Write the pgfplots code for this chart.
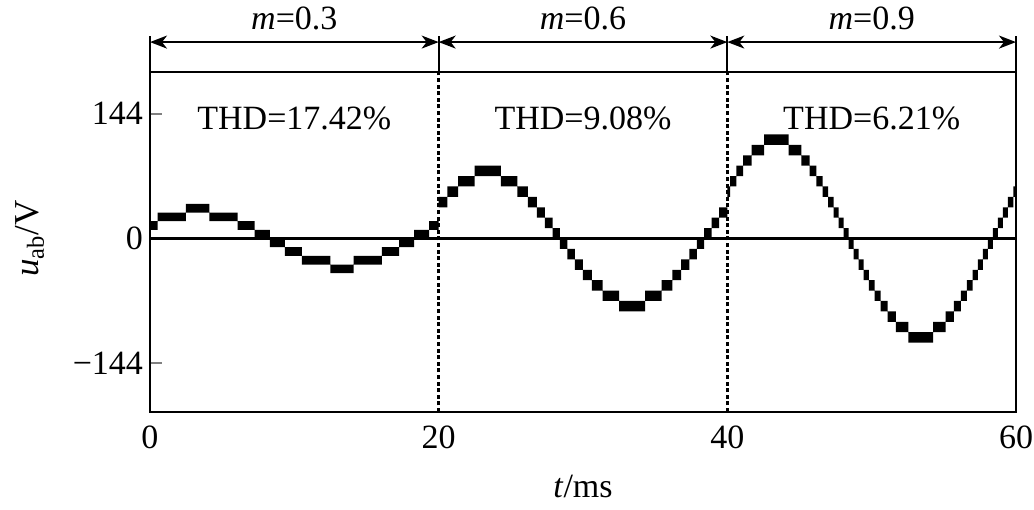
\documentclass[border=0pt]{standalone}
\usepackage{fontspec}
\setmainfont{Liberation Serif}
\usepackage{pgfplots}
\pgfplotsset{compat=1.18}
\usetikzlibrary{arrows.meta}

\begin{document}
\begin{tikzpicture}[font=\fontsize{17}{20}\selectfont]
\useasboundingbox (-75pt,-48.5pt) rectangle (442pt,206pt);
\begin{axis}[
  at={(0,0)}, anchor=south west,
  scale only axis, width=433pt, height=170pt,
  xmin=0, xmax=60, ymin=-200, ymax=192,
  xtick={0,20,40,60}, xticklabels={0,20,40,60},
  ytick={-144,0,144}, yticklabels={−144,0,144},
  tick align=inside, ytick pos=left, xtick style={draw=none},
  major tick length=6pt,
  ytick style={line width=1pt},
  axis line style={line width=1pt},
  tick label style={font=\fontsize{17}{20}\selectfont},
  xticklabel style={yshift=-3.5pt},
  clip=false,
  unbounded coords=jump,
  xlabel={\textit{t}/ms}, ylabel={\textit{u}\textsubscript{ab}/V},
  every axis x label/.style={at={(rel axis cs:0.5,-0.22)}, anchor=center, font=\fontsize{17}{20}\selectfont},
  every axis y label/.style={at={(rel axis cs:-0.1386,0.51)}, anchor=center, rotate=90, font=\fontsize{17.5}{20}\selectfont},
]
% m = 0.3 band blocks (t1,lo) (t2,lo) (t2,hi) (t1,hi)
\addplot[fill=black, draw=none] coordinates {
(0,10) (0.531,10) (0.531,20) (0,20) (0,nan)
(0.531,20) (2.489,20) (2.489,30) (0.531,30) (0.531,nan)
(2.489,30) (4.111,30) (4.111,40) (2.489,40) (2.489,nan)
(4.111,20) (6.069,20) (6.069,30) (4.111,30) (4.111,nan)
(6.069,10) (7.254,10) (7.254,20) (6.069,20) (6.069,nan)
(7.254,0) (8.3,0) (8.3,10) (7.254,10) (7.254,nan)
(8.3,-10) (9.346,-10) (9.346,0) (8.3,0) (8.3,nan)
(9.346,-20) (10.531,-20) (10.531,-10) (9.346,-10) (9.346,nan)
(10.531,-30) (12.489,-30) (12.489,-20) (10.531,-20) (10.531,nan)
(12.489,-40) (14.111,-40) (14.111,-30) (12.489,-30) (12.489,nan)
(14.111,-30) (16.069,-30) (16.069,-20) (14.111,-20) (14.111,nan)
(16.069,-20) (17.254,-20) (17.254,-10) (16.069,-10) (16.069,nan)
(17.254,-10) (18.3,-10) (18.3,0) (17.254,0) (17.254,nan)
(18.3,0) (19.346,0) (19.346,10) (18.3,10) (18.3,nan)
(19.346,10) (20,10) (20,20) (19.346,20)
};
% m = 0.6
\addplot[fill=black, draw=none] coordinates {
(20,36) (20.611,36) (20.611,48) (20,48) (20,nan)
(20.611,48) (21.352,48) (21.352,60) (20.611,60) (20.611,nan)
(21.352,60) (22.497,60) (22.497,72) (21.352,72) (21.352,nan)
(22.497,72) (24.303,72) (24.303,84) (22.497,84) (22.497,nan)
(24.303,60) (25.448,60) (25.448,72) (24.303,72) (24.303,nan)
(25.448,48) (26.189,48) (26.189,60) (25.448,60) (25.448,nan)
(26.189,36) (26.806,36) (26.806,48) (26.189,48) (26.189,nan)
(26.806,24) (27.363,24) (27.363,36) (26.806,36) (26.806,nan)
(27.363,12) (27.888,12) (27.888,24) (27.363,24) (27.363,nan)
(27.888,0) (28.4,0) (28.4,12) (27.888,12) (27.888,nan)
(28.4,-12) (28.912,-12) (28.912,0) (28.4,0) (28.4,nan)
(28.912,-24) (29.437,-24) (29.437,-12) (28.912,-12) (28.912,nan)
(29.437,-36) (29.994,-36) (29.994,-24) (29.437,-24) (29.437,nan)
(29.994,-48) (30.611,-48) (30.611,-36) (29.994,-36) (29.994,nan)
(30.611,-60) (31.352,-60) (31.352,-48) (30.611,-48) (30.611,nan)
(31.352,-72) (32.497,-72) (32.497,-60) (31.352,-60) (31.352,nan)
(32.497,-84) (34.303,-84) (34.303,-72) (32.497,-72) (32.497,nan)
(34.303,-72) (35.448,-72) (35.448,-60) (34.303,-60) (34.303,nan)
(35.448,-60) (36.189,-60) (36.189,-48) (35.448,-48) (35.448,nan)
(36.189,-48) (36.806,-48) (36.806,-36) (36.189,-36) (36.189,nan)
(36.806,-36) (37.363,-36) (37.363,-24) (36.806,-24) (36.806,nan)
(37.363,-24) (37.888,-24) (37.888,-12) (37.363,-12) (37.363,nan)
(37.888,-12) (38.4,-12) (38.4,0) (37.888,0) (37.888,nan)
(38.4,0) (38.912,0) (38.912,12) (38.4,12) (38.4,nan)
(38.912,12) (39.437,12) (39.437,24) (38.912,24) (38.912,nan)
(39.437,24) (40,24) (40,36) (39.437,36)
};
% m = 0.9
\addplot[fill=black, draw=none] coordinates {
(40,48) (40.2,48) (40.2,60) (40,60) (40,nan)
(40.2,60) (40.623,60) (40.623,72) (40.2,72) (40.2,nan)
(40.623,72) (41.1,72) (41.1,84) (40.623,84) (40.623,nan)
(41.1,84) (41.678,84) (41.678,96) (41.1,96) (41.1,nan)
(41.678,96) (42.547,96) (42.547,108) (41.678,108) (41.678,nan)
(42.547,108) (44.253,108) (44.253,120) (42.547,120) (42.547,nan)
(44.253,96) (45.122,96) (45.122,108) (44.253,108) (44.253,nan)
(45.122,84) (45.7,84) (45.7,96) (45.122,96) (45.122,nan)
(45.7,72) (46.177,72) (46.177,84) (45.7,84) (45.7,nan)
(46.177,60) (46.6,60) (46.6,72) (46.177,72) (46.177,nan)
(46.6,48) (46.99,48) (46.99,60) (46.6,60) (46.6,nan)
(46.99,36) (47.358,36) (47.358,48) (46.99,48) (46.99,nan)
(47.358,24) (47.712,24) (47.712,36) (47.358,36) (47.358,nan)
(47.712,12) (48.058,12) (48.058,24) (47.712,24) (47.712,nan)
(48.058,0) (48.4,0) (48.4,12) (48.058,12) (48.058,nan)
(48.4,-12) (48.742,-12) (48.742,0) (48.4,0) (48.4,nan)
(48.742,-24) (49.088,-24) (49.088,-12) (48.742,-12) (48.742,nan)
(49.088,-36) (49.442,-36) (49.442,-24) (49.088,-24) (49.088,nan)
(49.442,-48) (49.81,-48) (49.81,-36) (49.442,-36) (49.442,nan)
(49.81,-60) (50.2,-60) (50.2,-48) (49.81,-48) (49.81,nan)
(50.2,-72) (50.623,-72) (50.623,-60) (50.2,-60) (50.2,nan)
(50.623,-84) (51.1,-84) (51.1,-72) (50.623,-72) (50.623,nan)
(51.1,-96) (51.678,-96) (51.678,-84) (51.1,-84) (51.1,nan)
(51.678,-108) (52.547,-108) (52.547,-96) (51.678,-96) (51.678,nan)
(52.547,-120) (54.253,-120) (54.253,-108) (52.547,-108) (52.547,nan)
(54.253,-108) (55.122,-108) (55.122,-96) (54.253,-96) (54.253,nan)
(55.122,-96) (55.7,-96) (55.7,-84) (55.122,-84) (55.122,nan)
(55.7,-84) (56.177,-84) (56.177,-72) (55.7,-72) (55.7,nan)
(56.177,-72) (56.6,-72) (56.6,-60) (56.177,-60) (56.177,nan)
(56.6,-60) (56.99,-60) (56.99,-48) (56.6,-48) (56.6,nan)
(56.99,-48) (57.358,-48) (57.358,-36) (56.99,-36) (56.99,nan)
(57.358,-36) (57.712,-36) (57.712,-24) (57.358,-24) (57.358,nan)
(57.712,-24) (58.058,-24) (58.058,-12) (57.712,-12) (57.712,nan)
(58.058,-12) (58.4,-12) (58.4,0) (58.058,0) (58.058,nan)
(58.4,0) (58.742,0) (58.742,12) (58.4,12) (58.4,nan)
(58.742,12) (59.088,12) (59.088,24) (58.742,24) (58.742,nan)
(59.088,24) (59.442,24) (59.442,36) (59.088,36) (59.088,nan)
(59.442,36) (59.81,36) (59.81,48) (59.442,48) (59.442,nan)
(59.81,48) (60,48) (60,60) (59.81,60)
};
% zero line
\addplot[line width=1.3pt] coordinates {(0,0) (60,0)};
% separators
\addplot[line width=1.3pt, dash pattern=on 2pt off 1.3pt] coordinates {(20,-200) (20,192)};
\addplot[line width=1.3pt, dash pattern=on 2pt off 1.3pt] coordinates {(40,-200) (40,192)};
% top annotations
\draw[line width=0.9pt] (axis cs:0,192) -- (axis cs:0,233);
\draw[line width=0.9pt] (axis cs:20,192) -- (axis cs:20,233);
\draw[line width=0.9pt] (axis cs:40,192) -- (axis cs:40,233);
\draw[line width=0.9pt] (axis cs:60,192) -- (axis cs:60,233);
\draw[line width=0.9pt, {Stealth[length=8.5pt,width=6.5pt,inset=2.5pt]}-{Stealth[length=8.5pt,width=6.5pt,inset=2.5pt]}] (axis cs:0,226.5) -- (axis cs:20,226.5);
\draw[line width=0.9pt, {Stealth[length=8.5pt,width=6.5pt,inset=2.5pt]}-{Stealth[length=8.5pt,width=6.5pt,inset=2.5pt]}] (axis cs:20,226.5) -- (axis cs:40,226.5);
\draw[line width=0.9pt, {Stealth[length=8.5pt,width=6.5pt,inset=2.5pt]}-{Stealth[length=8.5pt,width=6.5pt,inset=2.5pt]}] (axis cs:40,226.5) -- (axis cs:60,226.5);
\node at (axis cs:10,254) {\textit{m}=0.3};
\node at (axis cs:30,254) {\textit{m}=0.6};
\node at (axis cs:50,254) {\textit{m}=0.9};
\node at (axis cs:10,138) {THD=17.42\%};
\node at (axis cs:30,138) {THD=9.08\%};
\node at (axis cs:50,138) {THD=6.21\%};
\end{axis}
\end{tikzpicture}
\end{document}
